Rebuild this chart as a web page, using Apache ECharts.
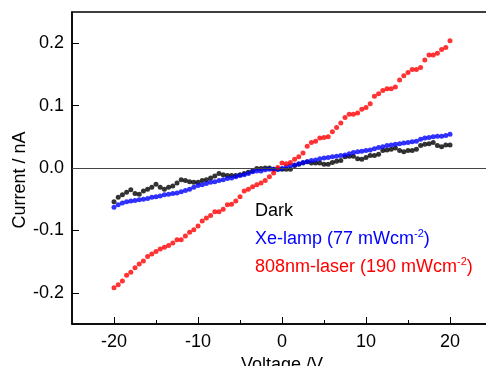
<!DOCTYPE html>
<html>
<head>
<meta charset="utf-8">
<script src="https://cdn.jsdelivr.net/npm/echarts@6/dist/echarts.min.js"></script>
<style>
  html, body { margin: 0; padding: 0; background: #fff; }
  #chart { width: 486px; height: 366px; }
</style>
</head>
<body>
<div id="chart"></div>
<script>
// bias voltage (V)
const voltage = [
  -20, -19.5, -19, -18.5, -18, -17.5, -17, -16.5, -16, -15.5,
  -15, -14.5, -14, -13.5, -13, -12.5, -12, -11.5, -11, -10.5,
  -10, -9.5, -9, -8.5, -8, -7.5, -7, -6.5, -6, -5.5,
  -5, -4.5, -4, -3.5, -3, -2.5, -2, -1.5, -1, -0.5,
  0, 0.5, 1, 1.5, 2, 2.5, 3, 3.5, 4, 4.5,
  5, 5.5, 6, 6.5, 7, 7.5, 8, 8.5, 9, 9.5,
  10, 10.5, 11, 11.5, 12, 12.5, 13, 13.5, 14, 14.5,
  15, 15.5, 16, 16.5, 17, 17.5, 18, 18.5, 19, 19.5,
  20
];

// current (nA)
const darkCurrent = [
  -0.054, -0.047, -0.043, -0.039, -0.035, -0.041, -0.042, -0.037, -0.034, -0.031,
  -0.026, -0.031, -0.034, -0.031, -0.029, -0.024, -0.019, -0.020, -0.022, -0.023,
  -0.023, -0.020, -0.019, -0.016, -0.013, -0.009, -0.011, -0.012, -0.012, -0.012,
  -0.011, -0.009, -0.007, -0.005, -0.001, -0.001, 0.000, 0.000, -0.002, -0.002,
  -0.002, -0.002, -0.002, 0.004, 0.006, 0.008, 0.010, 0.008, 0.008, 0.008,
  0.006, 0.006, 0.009, 0.011, 0.012, 0.018, 0.019, 0.019, 0.015, 0.014,
  0.017, 0.020, 0.020, 0.022, 0.028, 0.029, 0.030, 0.032, 0.028, 0.026,
  0.028, 0.028, 0.030, 0.036, 0.038, 0.039, 0.041, 0.036, 0.034, 0.037,
  0.037
];
const xeCurrent = [
  -0.063, -0.059, -0.056, -0.054, -0.053, -0.052, -0.051, -0.050, -0.049, -0.047,
  -0.046, -0.045, -0.043, -0.042, -0.041, -0.040, -0.038, -0.036, -0.034, -0.031,
  -0.028, -0.027, -0.025, -0.023, -0.022, -0.020, -0.019, -0.017, -0.016, -0.014,
  -0.012, -0.011, -0.009, -0.006, -0.005, -0.005, -0.003, -0.002, -0.002, -0.002,
  -0.001, 0.002, 0.004, 0.005, 0.007, 0.009, 0.010, 0.012, 0.013, 0.015,
  0.016, 0.017, 0.018, 0.019, 0.020, 0.021, 0.023, 0.025, 0.026, 0.027,
  0.028, 0.029, 0.031, 0.033, 0.034, 0.036, 0.037, 0.038, 0.039, 0.040,
  0.041, 0.042, 0.043, 0.046, 0.048, 0.049, 0.050, 0.051, 0.051, 0.052,
  0.054
];
const laserCurrent = [
  -0.192, -0.187, -0.181, -0.172, -0.167, -0.160, -0.154, -0.149, -0.142, -0.138,
  -0.134, -0.130, -0.127, -0.124, -0.120, -0.115, -0.115, -0.109, -0.103, -0.099,
  -0.093, -0.085, -0.080, -0.076, -0.070, -0.070, -0.066, -0.059, -0.058, -0.053,
  -0.046, -0.037, -0.034, -0.030, -0.027, -0.024, -0.020, -0.014, -0.008, 0.001,
  0.008, 0.007, 0.009, 0.014, 0.018, 0.024, 0.035, 0.041, 0.043, 0.048,
  0.049, 0.050, 0.058, 0.065, 0.072, 0.081, 0.086, 0.086, 0.088, 0.094,
  0.097, 0.103, 0.115, 0.119, 0.124, 0.127, 0.127, 0.130, 0.141, 0.148,
  0.153, 0.158, 0.158, 0.161, 0.173, 0.181, 0.181, 0.184, 0.190, 0.193,
  0.204
];

const xMajorTicks = [-20, -10, 0, 10, 20];
const xMinorTicks = [-15, -5, 5, 15];
const yMajorTicks = [-0.2, -0.1, 0, 0.1, 0.2];
const yMinorTicks = [-0.15, -0.05, 0.05, 0.15];

const font = "'Liberation Sans', Arial, sans-serif";
const pair = (ys) => voltage.map((v, i) => [v, ys[i]]);

const chart = echarts.init(document.getElementById("chart"), null, { renderer: "canvas" });

const dotSeries = (name, ys, color) => ({
  name: name,
  type: "scatter",
  xAxisIndex: 0,
  yAxisIndex: 0,
  symbol: "circle",
  symbolSize: 5,
  itemStyle: { color: color },
  data: pair(ys),
  silent: true,
  z: 3,
});

const option = {
  animation: false,
  backgroundColor: "#fff",
  grid: {
    left: 72,
    top: 12,
    width: 420,
    height: 312,
    outerBoundsMode: "none",
    containLabel: false,
    show: true,
    borderColor: "#000",
    borderWidth: 1.5,
  },
  xAxis: [
    {
      type: "value",
      min: -25,
      max: 25,
      position: "bottom",
      axisLine: { show: true, onZero: false, lineStyle: { color: "#000", width: 1.5 } },
      axisTick: { show: true, inside: true, length: 7, customValues: xMajorTicks, lineStyle: { color: "#000", width: 1 } },
      axisLabel: { customValues: xMajorTicks, color: "#000", fontFamily: font, fontSize: 18, margin: 9 },
      splitLine: { show: false },
      name: "Voltage /V",
      nameLocation: "middle",
      nameGap: 28,
      nameTextStyle: { color: "#000", fontFamily: font, fontSize: 18 },
    },
    {
      type: "value",
      min: -25,
      max: 25,
      position: "bottom",
      axisLine: { show: false, onZero: false },
      axisTick: { show: true, inside: true, length: 4, customValues: xMinorTicks, lineStyle: { color: "#000", width: 1 } },
      axisLabel: { show: false },
      splitLine: { show: false },
    },
  ],
  yAxis: [
    {
      type: "value",
      min: -0.25,
      max: 0.25,
      axisLine: { show: true, onZero: false, lineStyle: { color: "#000", width: 1.5 } },
      axisTick: { show: true, inside: true, length: 7, customValues: yMajorTicks, lineStyle: { color: "#000", width: 1 } },
      axisLabel: {
        customValues: yMajorTicks,
        formatter: (v) => v.toFixed(1),
        color: "#000",
        fontFamily: font,
        fontSize: 18,
        margin: 8,
      },
      splitLine: { show: false },
    },
    {
      type: "value",
      min: -0.25,
      max: 0.25,
      axisLine: { show: false, onZero: false },
      axisTick: { show: true, inside: true, length: 4, customValues: yMinorTicks, lineStyle: { color: "#000", width: 1 } },
      axisLabel: { show: false },
      splitLine: { show: false },
    },
  ],
  series: [
    Object.assign(dotSeries("Dark", darkCurrent, "#000000"), {
      markLine: {
        silent: true,
        symbol: "none",
        label: { show: false },
        lineStyle: { color: "#444", width: 1.2, type: "solid" },
        data: [{ yAxis: 0 }],
      },
    }),
    dotSeries("Xe-lamp", xeCurrent, "#0000ff"),
    dotSeries("808nm-laser", laserCurrent, "#ff0000"),
  ],
  graphic: [
    {
      type: "text",
      rotation: Math.PI / 2,
      x: 20,
      y: 180,
      style: {
        text: "Current / nA",
        fill: "#000",
        font: "18px " + font,
        align: "center",
        verticalAlign: "middle",
      },
    },
    {
      type: "text",
      x: 255,
      y: 211,
      style: { text: "Dark", fill: "#000", font: "18px " + font, verticalAlign: "middle" },
    },
    {
      type: "text",
      x: 255,
      y: 239,
      style: {
        text: "{a|Xe-lamp (77 mWcm}{s|-2}{a|)}",
        verticalAlign: "middle",
        rich: {
          a: { fill: "#0000ff", fontSize: 18, fontFamily: font },
          s: { fill: "#0000ff", fontSize: 11, fontFamily: font, padding: [0, 0, 10, 0] },
        },
      },
    },
    {
      type: "text",
      x: 255,
      y: 267,
      style: {
        text: "{a|808nm-laser (190 mWcm}{s|-2}{a|)}",
        verticalAlign: "middle",
        rich: {
          a: { fill: "#ff0000", fontSize: 18, fontFamily: font },
          s: { fill: "#ff0000", fontSize: 11, fontFamily: font, padding: [0, 0, 10, 0] },
        },
      },
    },
  ],
};

chart.setOption(option);
</script>
</body>
</html>
